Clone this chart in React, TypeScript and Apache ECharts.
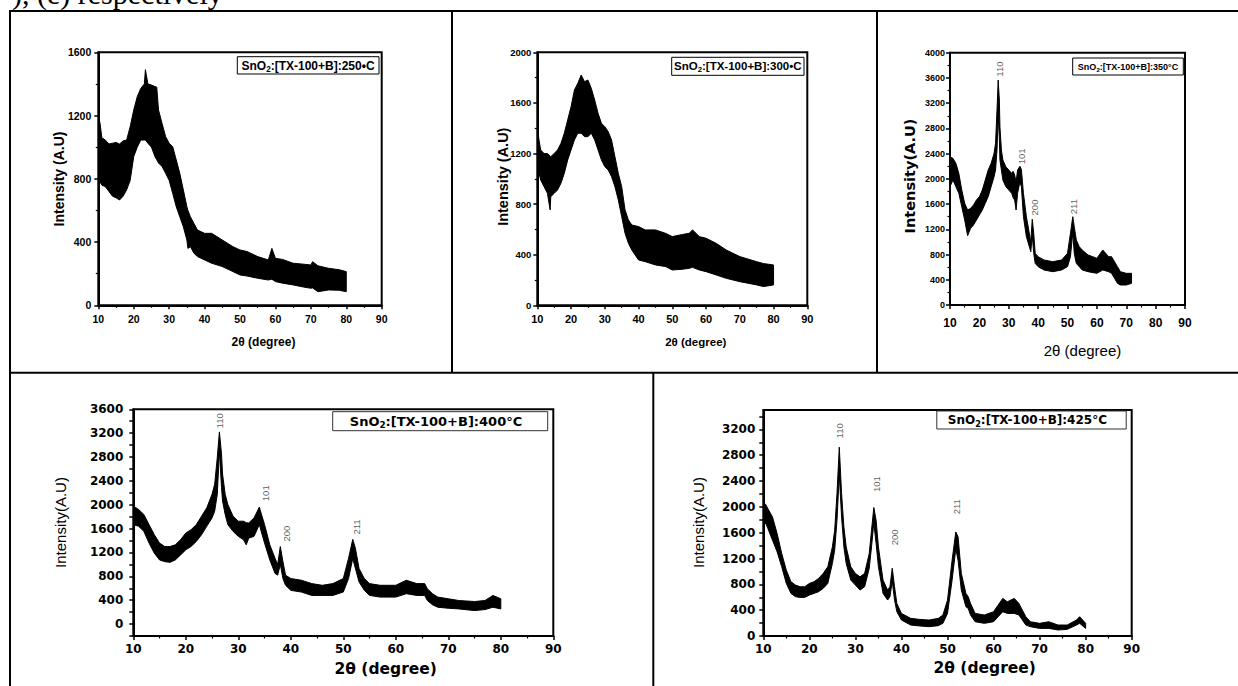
import React, { useEffect, useRef } from "react";
import * as echarts from "echarts";

// ---------- DATA (upper / lower envelope of the noisy trace) ----------
const x250 = [10, 10.5, 11, 12, 13, 14, 15, 16, 17, 18, 19, 20, 21, 22, 23, 23.3, 24, 25, 26, 26.5, 27, 28, 29, 30, 31, 32, 33, 34, 35, 35.3, 36, 37, 38, 40, 42, 45, 48, 50, 52, 55, 58, 59, 60, 62, 65, 68, 70, 70.5, 72, 75, 78, 80];
const hi250 = [1200, 1150, 1060, 1045, 1020, 1025, 1030, 1020, 1040, 1045, 1130, 1235, 1320, 1372, 1400, 1490, 1400, 1393, 1383, 1380, 1235, 1150, 1067, 1025, 1003, 920, 835, 730, 624, 600, 560, 518, 476, 455, 455, 413, 371, 350, 340, 308, 287, 360, 297, 290, 266, 260, 255, 276, 250, 234, 225, 213];
const lo250 = [790, 780, 760, 750, 720, 690, 680, 666, 690, 730, 790, 940, 1000, 1045, 1045, 1045, 1025, 1000, 940, 920, 900, 877, 835, 790, 708, 624, 560, 497, 413, 360, 371, 329, 308, 287, 266, 245, 213, 192, 185, 171, 160, 165, 150, 140, 129, 115, 108, 110, 86, 97, 95, 86];

const x300 = [10, 10.5, 11, 12, 13, 13.8, 14, 15, 16, 17, 18, 19, 20, 21, 22, 23, 24, 25, 26, 27, 28, 29, 30, 31, 32, 33, 34, 35, 36, 37, 38, 40, 42, 45, 48, 50, 53, 55, 56, 58, 60, 63, 66, 70, 75, 77, 80];
const hi300 = [1412, 1307, 1228, 1200, 1200, 1180, 1175, 1200, 1228, 1280, 1360, 1465, 1570, 1702, 1755, 1820, 1768, 1781, 1715, 1623, 1518, 1439, 1412, 1373, 1307, 1175, 1043, 938, 754, 675, 635, 622, 596, 596, 569, 543, 560, 569, 596, 543, 530, 490, 437, 385, 345, 330, 319];
const lo300 = [1175, 1043, 990, 938, 885, 754, 859, 885, 912, 964, 1043, 1149, 1228, 1307, 1360, 1360, 1333, 1333, 1360, 1307, 1228, 1149, 1096, 1070, 1017, 938, 833, 701, 569, 490, 437, 358, 345, 319, 306, 279, 285, 292, 300, 279, 266, 240, 213, 187, 161, 148, 161];

const x350 = [10, 11, 12, 13, 14, 15, 16, 17, 18, 19, 20, 21, 22, 23, 24, 25, 25.5, 26, 26.4, 26.8, 27, 27.5, 28, 29, 30, 31, 31.5, 32, 32.5, 33, 33.8, 34.3, 35, 36, 37, 37.5, 38, 38.5, 39, 40, 42, 45, 48, 50, 51, 51.8, 52.3, 53, 54, 55, 57, 60, 62, 64, 65, 66, 67, 68, 70, 71.8];
const hi350 = [2351, 2325, 2246, 2087, 1823, 1612, 1506, 1532, 1585, 1664, 1717, 1823, 1981, 2140, 2246, 2404, 2563, 3091, 3567, 3250, 2827, 2457, 2298, 2193, 2140, 2087, 2120, 2061, 1950, 2140, 2200, 2150, 1770, 1400, 1136, 1000, 1360, 1136, 819, 766, 713, 687, 713, 819, 1136, 1400, 1242, 1030, 925, 872, 793, 740, 872, 766, 766, 687, 608, 528, 502, 502];
const lo350 = [1876, 1981, 1876, 1770, 1559, 1347, 1100, 1215, 1268, 1347, 1427, 1506, 1612, 1717, 1876, 2034, 2140, 2457, 3000, 2650, 2298, 2140, 1981, 1876, 1823, 1770, 1700, 1664, 1506, 1770, 1950, 1876, 1400, 1083, 925, 845, 1100, 819, 660, 608, 555, 528, 555, 608, 766, 1150, 819, 660, 608, 555, 528, 502, 555, 528, 502, 423, 343, 317, 317, 343];

const x400 = [10, 11, 12, 13, 14, 15, 16, 17, 18, 19, 20, 21, 22, 23, 24, 25, 25.5, 26, 26.4, 26.8, 27, 27.5, 28, 29, 30, 31, 31.5, 32, 33, 34, 35, 36, 37, 37.5, 38, 38.5, 39, 40, 42, 44, 46, 48, 50, 51, 51.8, 52.3, 53, 54, 55, 57, 60, 62, 64, 65.5, 66, 67, 68, 70, 72, 75, 77, 78.5, 80];
const hi400 = [1978, 1922, 1837, 1667, 1498, 1357, 1300, 1300, 1328, 1413, 1526, 1582, 1667, 1808, 1950, 2176, 2345, 2797, 3221, 2854, 2515, 2176, 2006, 1808, 1724, 1724, 1700, 1695, 1780, 1960, 1667, 1328, 1102, 1000, 1300, 1046, 820, 763, 735, 678, 650, 678, 763, 1102, 1420, 1272, 932, 763, 678, 650, 650, 735, 678, 678, 593, 508, 452, 424, 395, 378, 395, 480, 424];
const lo400 = [1667, 1640, 1554, 1357, 1188, 1075, 1046, 1035, 1075, 1159, 1244, 1300, 1385, 1498, 1640, 1780, 1893, 2176, 2900, 2289, 2063, 1837, 1667, 1554, 1470, 1413, 1328, 1441, 1470, 1667, 1357, 1075, 848, 820, 1000, 763, 650, 565, 537, 480, 480, 480, 537, 763, 1100, 932, 706, 565, 480, 452, 452, 509, 480, 480, 395, 322, 282, 265, 254, 226, 243, 282, 254];

const x425 = [10, 10.5, 11, 12, 13, 14, 15, 16, 17, 18, 19, 20, 21, 22, 23, 24, 25, 25.5, 26, 26.5, 27, 27.5, 28, 29, 30, 31, 32, 33, 33.5, 34, 34.5, 35, 36, 37, 37.5, 38, 38.5, 39, 40, 42, 44, 46, 48, 49, 50, 51, 51.8, 52.3, 53, 54, 54.5, 55, 56, 58, 60, 61, 62, 63, 64.5, 65.5, 67, 68, 70, 72, 74, 76, 78, 78.7, 80];
const hi425 = [2057, 2040, 1972, 1843, 1586, 1277, 1020, 840, 788, 763, 763, 814, 840, 891, 969, 1071, 1380, 1638, 2204, 2925, 2204, 1689, 1380, 1071, 969, 917, 969, 1277, 1638, 1990, 1792, 1380, 866, 711, 763, 1050, 763, 505, 350, 273, 257, 247, 273, 324, 556, 1174, 1612, 1535, 969, 660, 608, 505, 350, 325, 376, 479, 582, 530, 582, 505, 299, 221, 196, 221, 170, 170, 247, 299, 196];
const lo425 = [1700, 1750, 1663, 1483, 1303, 1071, 814, 660, 608, 598, 598, 634, 660, 686, 737, 814, 1123, 1329, 1792, 2500, 1843, 1380, 1123, 866, 788, 711, 763, 1046, 1380, 1750, 1432, 1071, 660, 557, 608, 850, 557, 376, 247, 170, 155, 144, 160, 196, 350, 866, 1350, 1174, 711, 453, 427, 325, 221, 196, 221, 299, 376, 350, 350, 325, 170, 144, 118, 118, 93, 103, 170, 196, 118];

// peak (hkl) annotations: 2θ and intensity where the label starts
const hkl = ["110", "101", "200", "211"];
const peakTheta350 = [26.8, 34.5, 38.7, 52.2];
const peakLabelY350 = [3620, 2230, 1420, 1440];
const peakTheta400 = [26.5, 35.2, 39.2, 52.5];
const peakLabelY400 = [3280, 2060, 1385, 1500];
const peakTheta425 = [26.6, 34.5, 38.5, 52.0];
const peakLabelY425 = [3060, 2230, 1406, 1885];

const legendTexts = [
  ":[TX-100+B]:250\u2022C",
  ":[TX-100+B]:300\u2022C",
  ":[TX-100+B]:350\u00B0C",
  ":[TX-100+B]:400\u00B0C",
  ":[TX-100+B]:425\u00B0C",
];

// ---------- LAYOUT ----------
const FA = "Liberation Sans";
const FD = "DejaVu Sans";

type Plot = {
  x: number[]; hi: number[]; lo: number[];
  grid: { left: number; top: number; width: number; height: number };
  yMin: number; yMax: number; yInt: number; yMinor: boolean; every400: boolean;
  xFont: [number, string]; yFont: [number, string]; xMargin: number; yMargin: number;
  peaks?: { theta: number[]; y: number[] };
};

const plots: Plot[] = [
  { x: x250, hi: hi250, lo: lo250, grid: { left: 98.3, top: 52.3, width: 283.4, height: 253 }, yMin: 0, yMax: 1600, yInt: 400, yMinor: true, every400: false, xFont: [10.5, FA], yFont: [10.5, FA], xMargin: 8, yMargin: 7 },
  { x: x300, hi: hi300, lo: lo300, grid: { left: 537.3, top: 52.3, width: 270, height: 253 }, yMin: 0, yMax: 2000, yInt: 400, yMinor: true, every400: false, xFont: [11, FA], yFont: [9.5, FA], xMargin: 8, yMargin: 6 },
  { x: x350, hi: hi350, lo: lo350, grid: { left: 950, top: 52.7, width: 235, height: 252.3 }, yMin: 0, yMax: 4000, yInt: 400, yMinor: true, every400: false, xFont: [12, FA], yFont: [9, FA], xMargin: 12, yMargin: 5, peaks: { theta: peakTheta350, y: peakLabelY350 } },
  { x: x400, hi: hi400, lo: lo400, grid: { left: 133.3, top: 409.3, width: 420, height: 226.7 }, yMin: -200, yMax: 3600, yInt: 200, yMinor: false, every400: true, xFont: [12, FD], yFont: [12, FD], xMargin: 7, yMargin: 10, peaks: { theta: peakTheta400, y: peakLabelY400 } },
  { x: x425, hi: hi425, lo: lo425, grid: { left: 763.3, top: 410, width: 368.4, height: 226 }, yMin: 0, yMax: 3500, yInt: 200, yMinor: false, every400: true, xFont: [12, FD], yFont: [12, FD], xMargin: 7, yMargin: 8, peaks: { theta: peakTheta425, y: peakLabelY425 } },
];

const legendBoxes = [
  { x: 237.3, y: 56.7, w: 141.7, h: 17.3, cx: 308, cy: 65.5, fs: 12, ff: FA, stroke: "#000" },
  { x: 671.7, y: 57.3, w: 132.3, h: 18, cx: 737.8, cy: 66.3, fs: 11.5, ff: FA, stroke: "#000" },
  { x: 1072.7, y: 58, w: 110.6, h: 17, cx: 1128, cy: 66.5, fs: 9, ff: FA, stroke: "#000" },
  { x: 332.7, y: 411.7, w: 215, h: 19, cx: 436, cy: 421.2, fs: 13, ff: FD, stroke: "#333" },
  { x: 936.8, y: 411, w: 189.4, h: 18, cx: 1027.4, cy: 420, fs: 12, ff: FD, stroke: "#333" },
];

const yTitles = [
  { text: "Intensity (A.U)", x: 58.7, y: 179, fs: 14, ff: FA, fw: "bold" },
  { text: "Intensity (A.U)", x: 503.3, y: 176.7, fs: 14.5, ff: FA, fw: "bold" },
  { text: "Intensity(A.U)", x: 910, y: 176, fs: 14.5, ff: FD, fw: "bold" },
  { text: "Intensity(A.U)", x: 60, y: 522.5, fs: 15, ff: FA, fw: "normal" },
  { text: "Intensity(A.U)", x: 698.3, y: 522.5, fs: 15, ff: FA, fw: "normal" },
];
const xTitles = [
  { x: 263.5, y: 342, fs: 12, ff: FA, fw: "bold" },
  { x: 695.8, y: 341.7, fs: 11.5, ff: FA, fw: "bold" },
  { x: 1082.5, y: 350, fs: 15, ff: FA, fw: "normal" },
  { x: 385.7, y: 668.7, fs: 15.5, ff: FD, fw: "bold" },
  { x: 984.7, y: 667.5, fs: 15.5, ff: FD, fw: "bold" },
];

function buildOption() {
  const grid: any[] = [];
  const xAxis: any[] = [];
  const yAxis: any[] = [];
  const series: any[] = [];
  const graphic: any[] = [];

  plots.forEach((p, i) => {
    grid.push({
      ...p.grid,
      show: true,
      borderColor: "#000",
      borderWidth: 2,
      backgroundColor: "transparent",
      containLabel: false,
      outerBoundsMode: "none",
    });
    xAxis.push({
      type: "value", gridIndex: i, min: 10, max: 90, interval: 10, z: 10,
      axisLine: { show: true, onZero: false, lineStyle: { color: "#000", width: 2 } },
      axisTick: { show: true, inside: false, length: 4, lineStyle: { color: "#000", width: 1.5 } },
      minorTick: { show: true, splitNumber: 2, length: 2.5, lineStyle: { color: "#000", width: 1.2 } },
      splitLine: { show: false }, minorSplitLine: { show: false },
      axisLabel: { color: "#000", fontSize: p.xFont[0], fontFamily: p.xFont[1], fontWeight: "bold", margin: p.xMargin, hideOverlap: false, showMinLabel: true, showMaxLabel: true },
    });
    yAxis.push({
      type: "value", gridIndex: i, min: p.yMin, max: p.yMax, interval: p.yInt, z: 10,
      axisLine: { show: true, onZero: false, lineStyle: { color: "#000", width: 2 } },
      axisTick: { show: true, inside: false, length: 4, lineStyle: { color: "#000", width: 1.5 } },
      minorTick: { show: p.yMinor, splitNumber: 2, length: 2.5, lineStyle: { color: "#000", width: 1.2 } },
      splitLine: { show: false }, minorSplitLine: { show: false },
      axisLabel: {
        color: "#000", fontSize: p.yFont[0], fontFamily: p.yFont[1], fontWeight: "bold", margin: p.yMargin, hideOverlap: false,
        showMaxLabel: !p.every400 || p.yMax % 400 === 0,
        formatter: (v: number) => (p.every400 && v % 400 !== 0 ? "" : String(v)),
      },
    });
    // noisy trace drawn as the band between its lower and upper envelope
    series.push({
      type: "custom", xAxisIndex: i, yAxisIndex: i, silent: true, clip: true, z: 2,
      data: [[p.x[0], p.hi[0]]],
      renderItem: (_params: any, api: any) => {
        const pts: number[][] = [];
        for (let k = 0; k < p.x.length; k++) pts.push(api.coord([p.x[k], p.hi[k]]));
        for (let k = p.x.length - 1; k >= 0; k--) pts.push(api.coord([p.x[k], p.lo[k]]));
        return {
          type: "polygon",
          shape: { points: pts },
          style: { fill: "#000", stroke: "#000", lineWidth: 1, lineJoin: "miter" },
        };
      },
    });
    if (p.peaks) {
      series.push({
        type: "scatter", xAxisIndex: i, yAxisIndex: i, symbolSize: 1, silent: true, z: 5,
        itemStyle: { color: "rgba(0,0,0,0)" },
        data: hkl.map((n, k) => ({ name: n, value: [p.peaks!.theta[k], p.peaks!.y[k]] })),
        label: {
          show: true, formatter: "{b}", rotate: 90, position: "inside", align: "left", verticalAlign: "middle",
          fontSize: 9.5, fontFamily: FA, color: "#333",
        },
      });
    }
  });

  // table lines
  const L = (x1: number, y1: number, x2: number, y2: number) => ({
    type: "line", shape: { x1, y1, x2, y2 }, style: { stroke: "#000", lineWidth: 2 }, silent: true,
  });
  graphic.push(L(9, 11, 1238, 11));
  graphic.push(L(10, 10, 10, 686));
  graphic.push(L(452, 11, 452, 372.7));
  graphic.push(L(877, 11, 877, 372.7));
  graphic.push(L(9, 372.7, 1238, 372.7));
  graphic.push(L(653.3, 372.7, 653.3, 686));

  // cropped caption line at the very top
  graphic.push({
    type: "text", x: 12, y: -7, silent: true,
    style: { text: "), (e) respectively", fontFamily: "Liberation Serif", fontSize: 30, fill: "#000", verticalAlign: "middle", align: "left" },
  });

  legendBoxes.forEach((b, i) => {
    graphic.push({
      type: "rect", shape: { x: b.x, y: b.y, width: b.w, height: b.h }, silent: true, z: 10,
      style: { fill: "#fff", stroke: b.stroke, lineWidth: 1 },
    });
    graphic.push({
      type: "text", x: b.cx, y: b.cy, silent: true, z: 11,
      style: {
        text: "{a|SnO}{s|2}{a|" + legendTexts[i] + "}",
        align: "center", verticalAlign: "middle",
        rich: {
          a: { fontFamily: b.ff, fontWeight: "bold", fontSize: b.fs, fill: "#000", lineHeight: b.fs * 1.3, verticalAlign: "middle" },
          s: { fontFamily: b.ff, fontWeight: "bold", fontSize: b.fs * 0.68, fill: "#000", verticalAlign: "bottom" },
        },
      },
    });
  });

  yTitles.forEach((t) => {
    graphic.push({
      type: "text", x: t.x, y: t.y, rotation: Math.PI / 2, silent: true,
      style: { text: t.text, fontFamily: t.ff, fontWeight: t.fw, fontSize: t.fs, fill: "#000", align: "center", verticalAlign: "middle" },
    });
  });
  xTitles.forEach((t) => {
    graphic.push({
      type: "text", x: t.x, y: t.y, silent: true,
      style: { text: "2\u03B8 (degree)", fontFamily: t.ff, fontWeight: t.fw, fontSize: t.fs, fill: "#000", align: "center", verticalAlign: "middle" },
    });
  });

  return {
    animation: false,
    backgroundColor: "#fff",
    grid, xAxis, yAxis, series, graphic,
  };
}

export default function App() {
  const ref = useRef<HTMLDivElement>(null);
  useEffect(() => {
    if (!ref.current) return;
    const chart = echarts.init(ref.current, undefined, { renderer: "svg" });
    chart.setOption(buildOption() as any);
    return () => chart.dispose();
  }, []);
  return (
    <div
      ref={ref}
      style={{ position: "fixed", left: 0, top: 0, width: 1238, height: 686, background: "#fff" }}
    />
  );
}
